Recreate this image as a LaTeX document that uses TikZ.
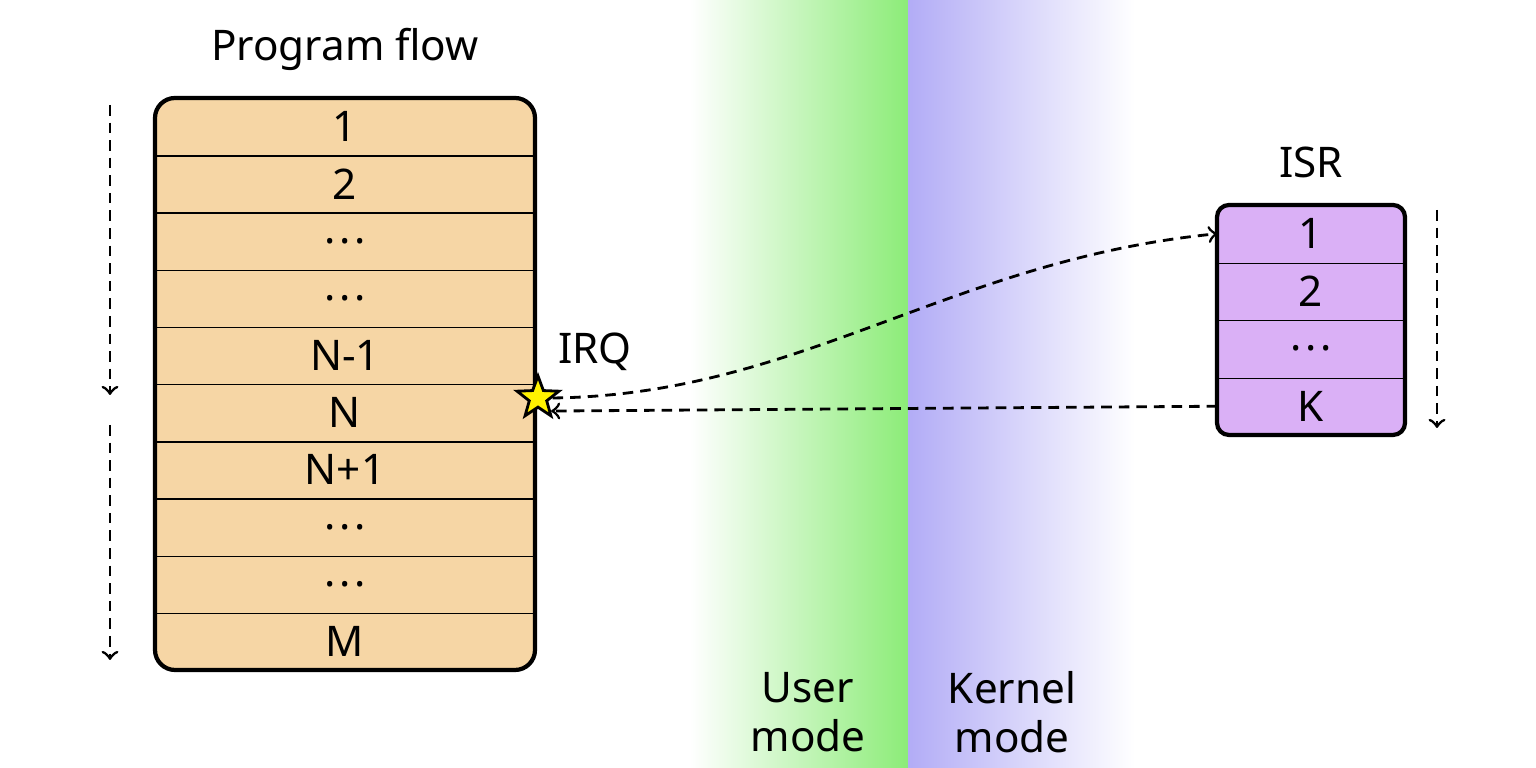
\documentclass[tikz,border=0pt]{standalone}
\usepackage{fontspec}
\setmainfont{Noto Sans}
\usetikzlibrary{positioning,arrows,shapes.geometric}
\definecolor{flowfill}{RGB}{246,214,165}
\definecolor{isrfill}{RGB}{218,176,246}
\definecolor{usergreen}{RGB}{140,236,120}
\definecolor{kernelblue}{RGB}{178,172,246}
\newcommand{\dotsrow}{\textbf{.\kern1pt.\kern1pt.}}
\begin{document}
\begin{tikzpicture}[x=0.01cm,y=-0.01cm,
  row/.style={minimum width=3.78cm,minimum height=0.572cm,inner sep=0pt,font=\fontsize{12}{14}\selectfont},
  srow/.style={minimum width=1.86cm,minimum height=0.575cm,inner sep=0pt,font=\fontsize{12}{14}\selectfont},
  lbl/.style={font=\fontsize{12}{14}\selectfont},
  flow/.style={->,densely dashed,thick},
  jump/.style={->,densely dashed,thick}]
  \useasboundingbox (0,0) rectangle (1536,768);
  % user / kernel shading
  \shade[left color=white,right color=usergreen] (690,0) rectangle (908,768);
  \shade[left color=kernelblue,right color=white] (908,0) rectangle (1135,768);
  \node[lbl,align=center] (user) at (808,712) {User\\mode};
  \node[lbl,align=center] (kernel) at (1012,712) {Kernel\\mode};

  % program flow
  \draw[very thick,fill=flowfill,rounded corners=0.2cm] (155,98) rectangle (535,670);
  \foreach \t [count=\i] in {1,2,\dotsrow,\dotsrow,N-1,N,N+1,\dotsrow,\dotsrow,M}
    \node[row] (p\i) at (345,{98+57.2*(\i-0.5)}) {\t};
  \foreach \i in {1,...,9}
    \draw (p\i.south west) -- (p\i.south east);
  \node[lbl,above=4pt of p1] (ptitle) {Program flow};

  % ISR
  \draw[very thick,fill=isrfill,rounded corners=0.12cm] (1217,205) rectangle (1405,435);
  \foreach \t [count=\i] in {1,2,\dotsrow,K}
    \node[srow] (s\i) at (1311,{205+57.5*(\i-0.5)}) {\t};
  \foreach \i in {1,...,3}
    \draw (s\i.south west) -- (s\i.south east);
  \node[lbl,above=4pt of s1] (stitle) {ISR};

  % flow direction
  \coordinate (fa) at (110,105); \coordinate (fb) at (110,395);
  \coordinate (fc) at (110,425); \coordinate (fd) at (110,660);
  \coordinate (fe) at (1437,210); \coordinate (ff) at (1437,428);
  \draw[flow] (fa) -- (fb);
  \draw[flow] (fc) -- (fd);
  \draw[flow] (fe) -- (ff);

  % interrupt
  \node[star,star points=5,star point ratio=2.4,draw,thick,fill=yellow,minimum size=0.44cm,inner sep=0pt] (irq) at (538,398) {};
  \node[lbl] (irqlbl) at (595,352) {IRQ};
  \draw[jump] (irq.east) .. controls (800,395) and (950,260) .. (s1.west);
  \draw[jump] (s4.west) -- (irq.south east);
\end{tikzpicture}
\end{document}
